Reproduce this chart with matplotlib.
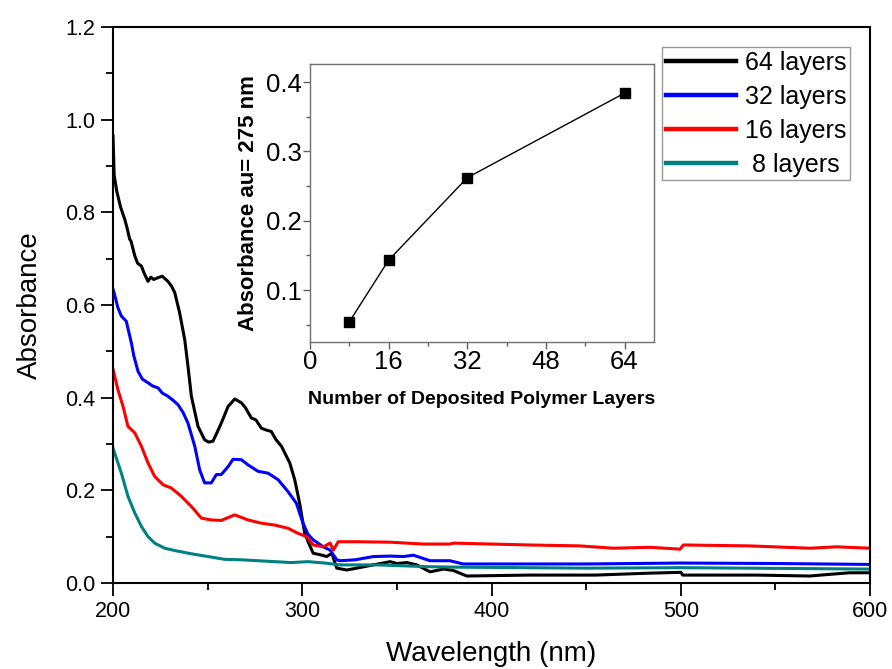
import matplotlib
matplotlib.use("Agg")
import matplotlib.pyplot as plt
from matplotlib.ticker import MultipleLocator, FormatStrFormatter

plt.rcParams['font.family'] = ['Liberation Sans', 'DejaVu Sans']

# UV-Vis spectra (wavelength in nm, absorbance)
wl_64 = [200, 200.6, 202, 204, 206.2, 207.5, 208.8, 209.5, 211.5, 213, 215, 216.5, 218.5, 220,
         221.5, 223.8, 226, 229, 231, 232.6, 235.2, 237.9, 239.6, 241.4, 244.9, 248.4, 250.5,
         252.8, 255, 257.2, 260.8, 264.3, 267.8, 270, 273.1, 275.5, 278.4, 281, 283.6, 286, 289,
         293.4, 296, 298.6, 301.3, 303.5, 305.8, 309.4, 312.9, 315.6, 318.2, 323.5, 328.8, 337.5,
         346.4, 350, 355.2, 360.5, 367.5, 374.5, 379.8, 386.9, 420, 455, 482, 500, 501, 540, 568,
         589, 600]
abs_64 = [0.965, 0.88, 0.845, 0.811, 0.785, 0.765, 0.742, 0.738, 0.706, 0.69, 0.684, 0.668, 0.651, 0.66,
          0.655, 0.659, 0.662, 0.651, 0.64, 0.627, 0.583, 0.525, 0.468, 0.403, 0.338, 0.309, 0.304,
          0.306, 0.325, 0.345, 0.381, 0.397, 0.389, 0.378, 0.356, 0.352, 0.334, 0.33, 0.327, 0.31, 0.295,
          0.259, 0.223, 0.172, 0.107, 0.085, 0.064, 0.061, 0.057, 0.064, 0.032, 0.028, 0.032, 0.039,
          0.046, 0.042, 0.044, 0.039, 0.024, 0.030, 0.027, 0.015, 0.017, 0.017, 0.021, 0.023, 0.017, 0.017, 0.015,
          0.022, 0.022]

wl_32 = [200, 201, 202.5, 204.4, 207, 209.7, 211, 213.2, 215.5, 218.5, 221, 223.8, 226, 229, 231.5,
         234.3, 237, 239.6, 243.2, 245.8, 248.4, 251.9, 254.6, 257.2, 260.8, 263.4, 267.8, 271.3,
         276.6, 281.9, 287.2, 292.5, 296.9, 300.4, 303, 305.8, 311.1, 314.7, 318.2, 320, 328, 337.5,
         346.4, 353.4, 358.7, 367.5, 378, 385, 450, 500, 550, 600]
abs_32 = [0.634, 0.62, 0.595, 0.576, 0.565, 0.518, 0.49, 0.457, 0.44, 0.432, 0.425, 0.421, 0.41, 0.403, 0.395,
          0.385, 0.368, 0.345, 0.295, 0.244, 0.216, 0.216, 0.234, 0.234, 0.251, 0.267, 0.266, 0.255,
          0.241, 0.237, 0.223, 0.197, 0.172, 0.129, 0.105, 0.093, 0.078, 0.071, 0.050, 0.048, 0.05, 0.057,
          0.058, 0.057, 0.060, 0.048, 0.048, 0.041, 0.041, 0.043, 0.042, 0.040]

wl_16 = [200, 202.6, 205.3, 207.9, 211.5, 215, 218.5, 222, 226.4, 230.8, 236.1, 241.4, 246.7, 251.9,
         257.2, 264.3, 271.3, 278.4, 285.4, 292.5, 297.8, 302.3, 305.8, 311.1, 314.7, 316.4, 319,
         328.8, 346.4, 364, 378, 380, 420, 446.8, 464.4, 483.8, 499.6, 501.4, 536.6, 568.3, 582.4, 600]
abs_16 = [0.461, 0.417, 0.381, 0.338, 0.324, 0.295, 0.259, 0.230, 0.212, 0.205, 0.187, 0.165, 0.140, 0.136,
          0.135, 0.147, 0.136, 0.129, 0.125, 0.118, 0.107, 0.100, 0.082, 0.078, 0.086, 0.071, 0.089,
          0.089, 0.088, 0.084, 0.084, 0.086, 0.082, 0.080, 0.075, 0.077, 0.073, 0.082, 0.080, 0.075, 0.078, 0.075]

wl_8 = [200, 204.4, 207.9, 211.5, 215, 218.5, 222, 227.3, 232.6, 241.4, 250.2, 259, 267.8, 276.6,
        285.4, 294.2, 303, 311.9, 320, 340, 367, 385, 450, 500, 600]
abs_8 = [0.291, 0.237, 0.187, 0.151, 0.122, 0.100, 0.086, 0.075, 0.070, 0.063, 0.057, 0.051, 0.050, 0.048,
         0.046, 0.044, 0.046, 0.043, 0.039, 0.039, 0.035, 0.034, 0.032, 0.033, 0.030]

series_labels = ['64 layers', '32 layers', '16 layers', ' 8 layers']
series_colors = ['#000000', '#0000FF', '#FF0000', '#008080']

# Absorbance at 275 nm versus number of deposited layers
n_layers = [8, 16, 32, 64]
abs_275 = [0.054, 0.143, 0.262, 0.384]

fig = plt.figure(figsize=(8.92, 6.69), dpi=100)
ax = fig.add_axes([0.1267, 0.1286, 0.8487, 0.8311])

for wl, ab, lab, col in zip([wl_64, wl_32, wl_16, wl_8], [abs_64, abs_32, abs_16, abs_8],
                            series_labels, series_colors):
    ax.plot(wl, ab, color=col, lw=2.2, label=lab, solid_joinstyle='round')

ax.set_xlim(200, 600)
ax.set_ylim(0, 1.2)
ax.xaxis.set_major_locator(MultipleLocator(100))
ax.xaxis.set_minor_locator(MultipleLocator(50))
ax.yaxis.set_major_locator(MultipleLocator(0.2))
ax.yaxis.set_minor_locator(MultipleLocator(0.1))
ax.yaxis.set_major_formatter(FormatStrFormatter('%.1f'))
ax.tick_params(which='both', direction='out', top=False, right=False, width=1.3, labelsize=15.5)
ax.tick_params(which='major', length=9, pad=4)
ax.tick_params(which='minor', length=5)
for sp in ax.spines.values():
    sp.set_linewidth(1.5)
ax.set_xlabel('Wavelength (nm)', fontsize=20, labelpad=14)
ax.set_ylabel('Absorbance', fontsize=20, labelpad=16)

leg = ax.legend(loc='upper right', bbox_to_anchor=(0.9736, 0.964), borderaxespad=0,
                fontsize=18, frameon=True, fancybox=False, handlelength=2.8,
                handletextpad=0.35, labelspacing=0.4, borderpad=0.15)
leg.get_frame().set_edgecolor('#808080')
leg.get_frame().set_linewidth(1.0)
for line in leg.get_lines():
    line.set_linewidth(3.2)

# Inset
axi = fig.add_axes([0.3475, 0.4888, 0.3857, 0.4155])
axi.plot(n_layers, abs_275, color='black', lw=1.0, marker='s', markersize=7.5,
         markerfacecolor='black', markeredgecolor='black')
axi.set_xlim(0, 70)
axi.set_ylim(0.025, 0.426)
axi.xaxis.set_major_locator(MultipleLocator(16))
axi.xaxis.set_minor_locator(MultipleLocator(8))
axi.yaxis.set_major_locator(MultipleLocator(0.1))
axi.yaxis.set_minor_locator(MultipleLocator(0.05))
axi.yaxis.set_major_formatter(FormatStrFormatter('%.1f'))
axi.tick_params(which='both', direction='out', top=False, right=False, width=1.0,
                color='#606060', labelsize=18.5)
axi.tick_params(which='major', length=5, pad=1)
axi.tick_params(which='minor', length=3)
for sp in axi.spines.values():
    sp.set_color('#707070')
    sp.set_linewidth(1.0)
axi.set_xlabel('Number of Deposited Polymer Layers', fontsize=14, fontweight='bold', labelpad=12)
axi.set_ylabel('Absorbance au= 275 nm', fontsize=16, fontweight='bold', labelpad=5)

fig.savefig('out.png', dpi=100)
